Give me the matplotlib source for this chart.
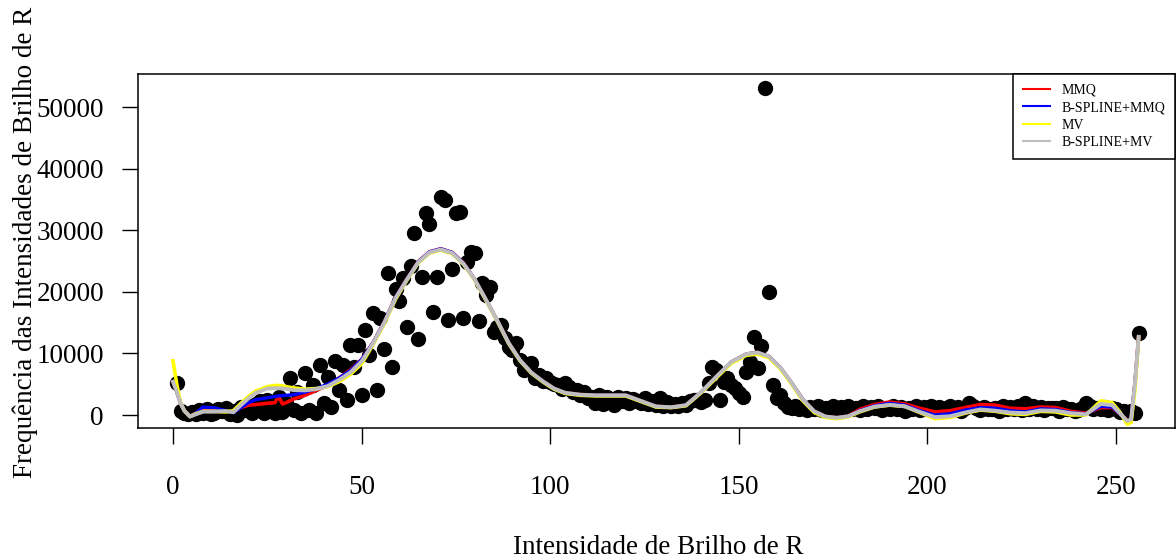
import matplotlib
matplotlib.use("Agg")
import matplotlib.pyplot as plt
import numpy as np

plt.rcParams["font.family"] = ["Liberation Serif", "DejaVu Serif"]

# histogram counts, intensity index 1..256
INTENSITY = np.arange(1, 257)
FREQ = [
    5200, 600, 300, 100, 500, 200, 800, 400, 1000, 150,
    300, 900, 600, 1100, 200, 700, 50, 1300, 800, 1500,
    300, 1800, 2200, 400, 2500, 1600, 300, 2900, 540, 2000,
    5960, 810, 3790, 270, 6880, 810, 4870, 270, 8120, 1900,
    6230, 1250, 8700, 4060, 8120, 2400, 11400, 7850, 11400, 3250,
    13800, 9750, 16500, 4060, 15700, 10800, 23100, 7750, 20400, 18500,
    22200, 14350, 24200, 29600, 12300, 22500, 32800, 31000, 16800, 22500,
    35400, 35000, 15400, 23800, 32800, 33000, 15700, 24900, 26500, 26400,
    15200, 21400, 19500, 20750, 13500, 14350, 14600, 12500, 11100, 10560,
    11650, 8940, 7310, 8000, 8400, 5960, 6500, 5500, 5960, 5410,
    5000, 4870, 4300, 5150, 4600, 3800, 4000, 3300, 3800, 2800,
    3000, 2000, 3200, 1800, 2900, 2400, 1700, 3000, 2200, 2800,
    1900, 2600, 2300, 2000, 2700, 1800, 2200, 1600, 2700, 1500,
    2170, 1400, 1800, 1500, 2000, 1600, 2200, 2440, 2500, 2100,
    2400, 5150, 7850, 7310, 2440, 5400, 5960, 4870, 4330, 3520,
    3000, 7040, 8660, 12720, 7590, 11210, 53100, 20000, 4870, 2700,
    3250, 1900, 1350, 1100, 1500, 900, 1200, 800, 1300, 900,
    1400, 800, 1200, 1000, 1500, 700, 1300, 900, 1400, 1000,
    1200, 800, 1500, 900, 1300, 1100, 1400, 800, 1200, 1000,
    1500, 900, 1300, 700, 1200, 1000, 1400, 800, 1300, 900,
    1500, 1000, 1300, 1200, 800, 1400, 1000, 1300, 700, 1200,
    1900, 1400, 1100, 800, 1300, 1000, 1000, 1200, 700, 1400,
    900, 1300, 1000, 1500, 800, 1900, 1000, 1400, 900, 1300,
    800, 1200, 1100, 1200, 700, 1300, 1000, 900, 600, 800,
    1100, 1900, 1400, 900, 1200, 1000, 1300, 800, 1100, 900,
    500, 700, 400, 600, 300, 13300,
]

CURVE_X = [0, 1, 2, 3, 4.5, 6, 8, 11, 14, 16, 18, 20, 22, 25, 27, 28, 29, 30,
           32, 35, 38, 41, 44, 47, 50, 53, 56, 59, 62, 65, 68, 71, 74, 77,
           80, 83, 86, 89, 92, 95, 98, 101, 104, 108, 112, 116, 120, 124,
           128, 132, 136, 140, 144, 148, 152, 155, 158, 161, 164, 167, 170,
           173, 176, 179, 182, 186, 190, 194, 198, 202, 206, 210, 214, 218,
           222, 226, 230, 234, 238, 242, 246, 249, 251, 253, 254, 255, 256]

MMQ = [5400, 3800, 1900, 700, -250, 300, 1100, 800, 600, 500, 1200, 1600,
       1700, 1900, 2000, 3000, 1800, 2000, 2600, 3200, 4000, 4800, 6000,
       7300, 9000, 11700, 15100, 19100, 22100, 24900, 26500, 27000, 26400,
       24700, 22000, 18700, 15300, 11700, 8900, 6900, 5500, 4300, 3600,
       3300, 3200, 3200, 3200, 2300, 1400, 1250, 1600, 3700, 6200, 8600,
       9900, 10150, 9500, 7700, 5200, 2500, 600, -250, -450, -200, 900,
       1700, 2100, 1800, 1100, 500, 700, 1200, 1700, 1600, 1100, 1000,
       1300, 1200, 600, 300, 1200, 1200, 200, -900, -700, 5000, 12700]

BSPLINE_MMQ = [5400, 3800, 1900, 700, -250, 300, 1300, 1150, 700, 400, 1200,
               2000, 2500, 2800, 3000, 3100, 3150, 3200, 3300, 3700, 4300,
               5000, 6000, 7200, 9000, 11700, 15100, 19100, 22100, 24900,
               26500, 27000, 26400, 24700, 22000, 18700, 15300, 11700, 8900,
               6900, 5500, 4300, 3600, 3300, 3200, 3200, 3200, 2300, 1400,
               1250, 1600, 3700, 6200, 8600, 9900, 10150, 9500, 7700, 5200,
               2500, 600, -250, -450, -200, 700, 1500, 1900, 1600, 700, 0,
               200, 800, 1200, 1100, 700, 500, 1000, 900, 400, 200, 1400,
               1300, 200, -1000, -700, 5000, 12700]

MV = [8800, 5000, 2000, 700, -250, 200, 600, 600, 500, 700, 1900, 3000, 3900,
      4600, 4800, 4800, 4700, 4600, 4400, 4200, 4300, 4600, 5400, 6600, 8300,
      11400, 14800, 18800, 21900, 24700, 26300, 26800, 26200, 24500, 21900,
      18600, 15200, 11600, 8800, 6800, 5400, 4200, 3500, 3200, 3100, 3100,
      3100, 2200, 1300, 1200, 1500, 3600, 6000, 8400, 9700, 9900, 9300,
      7500, 5000, 2300, 400, -400, -600, -300, 500, 1300, 1600, 1400, 400,
      -600, -400, 300, 800, 600, 200, 100, 600, 500, 0, 0, 2300, 2000, 500,
      -1500, -1200, 4000, 12500]

BSPLINE_MV = [5400, 3800, 1900, 700, -250, 100, 550, 550, 650, 450, 1600,
              2700, 3600, 4300, 4350, 4350, 4300, 4250, 4050, 4000, 4200,
              4700, 5700, 6900, 8700, 11600, 15000, 19000, 22000, 24800,
              26400, 26900, 26300, 24600, 22000, 18700, 15300, 11700, 8900,
              6900, 5500, 4300, 3600, 3300, 3200, 3200, 3200, 2300, 1400,
              1250, 1600, 3700, 6200, 8600, 9900, 10150, 9500, 7700, 5200,
              2500, 600, -250, -450, -200, 600, 1350, 1650, 1400, 500, -350,
              -200, 400, 900, 700, 400, 300, 750, 700, 300, 100, 1800, 1600,
              300, -1000, -700, 5000, 12700]

X_TICKS = [0, 50, 100, 150, 200, 250]
Y_TICKS = [0, 10000, 20000, 30000, 40000, 50000]

W, H = 1176, 560
fig = plt.figure(figsize=(W / 100, H / 100), dpi=100)
ax = fig.add_axes([138 / W, (H - 428) / H, (1175 - 138) / W, (428 - 74) / H])

ax.plot(INTENSITY, FREQ, "o", color="black", ms=10, zorder=1)
ax.plot(CURVE_X, MMQ, color="red", lw=2.6, zorder=2)
ax.plot(CURVE_X, BSPLINE_MMQ, color="blue", lw=2.4, zorder=3)
ax.plot(CURVE_X, MV, color="yellow", lw=2.6, zorder=4)
ax.plot(CURVE_X, BSPLINE_MV, color="#BEBEBE", lw=2.8, zorder=5)

ax.set_xlim((138 - 173) / 3.772, (1175 - 173) / 3.772)
ax.set_ylim(-2112, 55400)
ax.set_xticks(X_TICKS)
ax.set_yticks(Y_TICKS)
ax.set_xticklabels([str(t) for t in X_TICKS])
ax.set_yticklabels([str(t) for t in Y_TICKS])
ax.tick_params(axis="both", length=11.5, width=1.0, labelsize=19.5, direction="out")
ax.tick_params(axis="x", pad=22)
ax.tick_params(axis="y", pad=13)
for sp in ax.spines.values():
    sp.set_linewidth(1.1)

fig.text(658 / W, 1 - 547 / H, "Intensidade de Brilho de R", ha="center", va="center", fontsize=19.5)
fig.text(25 / W, 1 - 242 / H, "Frequência das Intensidades de Brilho de R", ha="center", va="center",
         rotation=90, fontsize=19.5)

handles = [
    plt.Line2D([], [], color="red", lw=1.5),
    plt.Line2D([], [], color="blue", lw=1.5),
    plt.Line2D([], [], color="yellow", lw=1.5),
    plt.Line2D([], [], color="#BEBEBE", lw=1.5),
]
leg = ax.legend(handles, ["MMQ", "B-SPLINE+MMQ", "MV", "B-SPLINE+MV"], loc="upper right",
                borderaxespad=0, fontsize=10, frameon=True, fancybox=False, framealpha=1,
                edgecolor="black", handlelength=2.0, handletextpad=0.8, labelspacing=0.32,
                borderpad=0.7)
leg.get_frame().set_linewidth(1.1)

fig.savefig("out.png", dpi=100)
